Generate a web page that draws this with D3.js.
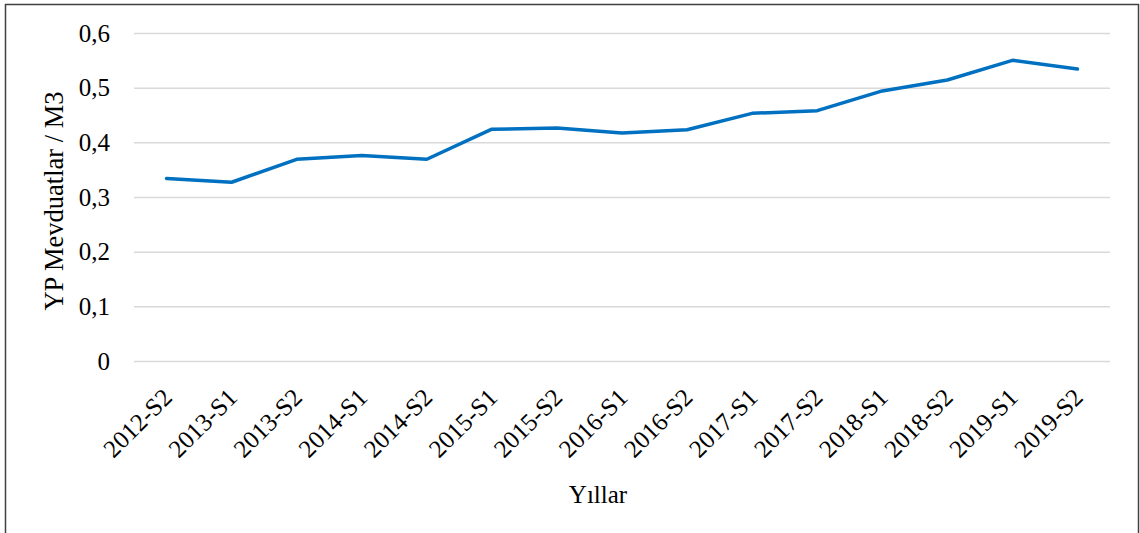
<!DOCTYPE html>
<html>
<head>
<meta charset="utf-8">
<script src="https://cdn.jsdelivr.net/npm/d3@7"></script>
<style>
  body { margin: 0; background: #fff; }
  svg text { font-family: "Liberation Serif", "Times New Roman", serif; fill: #000; }
</style>
</head>
<body>
<div id="chart-area"></div>
<script>
// data
var periods = ["2012-S2", "2013-S1", "2013-S2", "2014-S1", "2014-S2", "2015-S1", "2015-S2",
    "2016-S1", "2016-S2", "2017-S1", "2017-S2", "2018-S1", "2018-S2", "2019-S1", "2019-S2"];
var ratios = [0.334, 0.327, 0.369, 0.376, 0.369, 0.424, 0.426,
    0.417, 0.423, 0.453, 0.458, 0.494, 0.514, 0.550, 0.534];
var yTicks = [0, 0.1, 0.2, 0.3, 0.4, 0.5, 0.6];
var yTitle = "YP Mevduatlar / M3";
var xTitle = "Yıllar";

var W = 1140, H = 533;
var margin = { left: 134, right: 30, top: 33, bottom: 172 };
var width = W - margin.left - margin.right,
    height = H - margin.top - margin.bottom;

var root = d3.select("#chart-area")
    .append("svg")
        .attr("width", W)
        .attr("height", H);

// outer frame
root.append("rect")
    .attr("x", 5.5)
    .attr("y", 4.5)
    .attr("width", 1133)
    .attr("height", 540)
    .attr("fill", "none")
    .attr("stroke", "#404040")
    .attr("stroke-width", 1.5);

var svg = root.append("g")
    .attr("transform", "translate(" + margin.left + "," + margin.top + ")");

var x = d3.scalePoint()
    .domain(periods)
    .range([0, width])
    .padding(0.5);

var y = d3.scaleLinear()
    .domain([0, 0.6])
    .range([height, 0]);

var fmt = function(d){ return d === 0 ? "0" : d3.format(".1f")(d).replace(".", ","); };

// gridlines
svg.append("g")
    .call(d3.axisLeft(y).tickValues(yTicks).tickSize(-width).tickFormat(""))
    .call(function(g){ g.select(".domain").remove(); })
    .selectAll("line")
        .attr("stroke", "#d9d9d9")
        .attr("stroke-width", 1.5);

// y labels
svg.append("g")
    .selectAll("text")
    .data(yTicks)
    .enter().append("text")
        .attr("x", -24)
        .attr("y", function(d){ return y(d); })
        .attr("dy", "0.35em")
        .attr("text-anchor", "end")
        .attr("font-size", "25px")
        .text(fmt);

// x labels, rotated
svg.append("g")
    .selectAll("text")
    .data(periods)
    .enter().append("text")
        .attr("transform", function(d){
            return "translate(" + (x(d) + 7) + "," + (height + 38) + ") rotate(-45)";
        })
        .attr("text-anchor", "end")
        .attr("font-size", "25px")
        .text(function(d){ return d; });

// line
var line = d3.line()
    .x(function(d, i){ return x(periods[i]); })
    .y(function(d){ return y(d); });

svg.append("path")
    .datum(ratios)
    .attr("d", line)
    .attr("fill", "none")
    .attr("stroke", "#0070c0")
    .attr("stroke-width", 3.5)
    .attr("stroke-linejoin", "round")
    .attr("stroke-linecap", "round");

// titles
svg.append("text")
    .attr("transform", "rotate(-90)")
    .attr("x", -(201 - margin.top))
    .attr("y", 63 - margin.left)
    .attr("text-anchor", "middle")
    .attr("font-size", "26.5px")
    .text(yTitle);

svg.append("text")
    .attr("x", 598 - margin.left)
    .attr("y", 503 - margin.top)
    .attr("text-anchor", "middle")
    .attr("font-size", "25px")
    .text(xTitle);
</script>
</body>
</html>
